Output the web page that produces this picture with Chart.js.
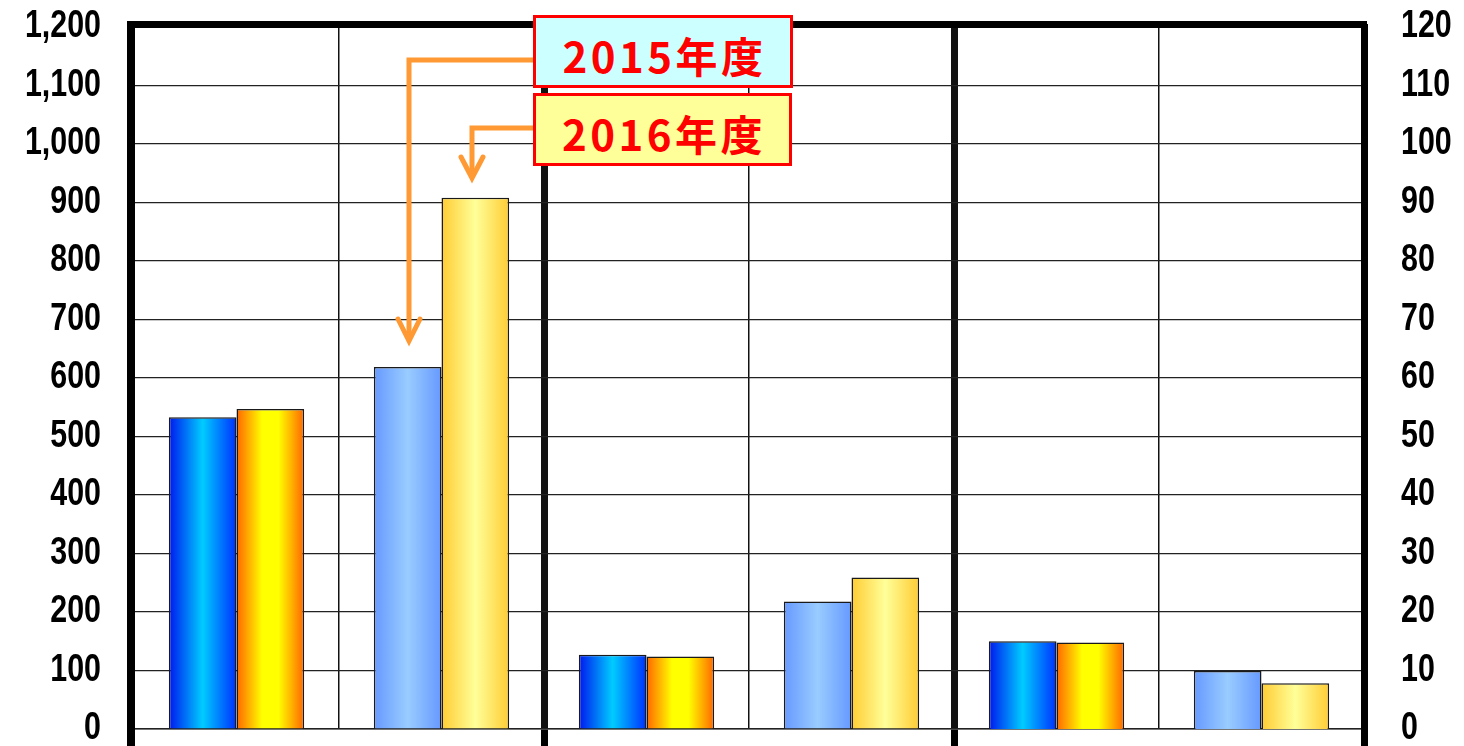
<!DOCTYPE html>
<html><head><meta charset="utf-8">
<script src="https://cdn.jsdelivr.net/npm/chart.js@4"></script>
<style>
html,body{margin:0;padding:0;background:#fff;overflow:hidden;}
#wrap{position:relative;width:1464px;height:746px;}
#c{position:absolute;left:0;top:0;}
.note{position:absolute;box-sizing:border-box;border:3px solid #ff0000;color:#ff0000;font:bold 42px "Noto Sans CJK JP",sans-serif;display:flex;align-items:center;justify-content:center;letter-spacing:3.5px;padding-top:5px;padding-left:3px;}
</style></head><body>
<div id="wrap"><canvas id="c" width="1464" height="746"></canvas>
<div class="note" style="left:533px;top:15px;width:260px;height:73px;background:#ccffff;">2015年度</div>
<div class="note" style="left:533px;top:93px;width:259px;height:73px;background:#ffff99;">2016年度</div>
</div>
<script>
// ---- data ----
const categories = ['G1-a', 'G1-b', 'G2-a', 'G2-b', 'G3-a', 'G3-b'];
const seriesNames = ['2015年度', '2016年度'];
const fy2015Left  = [533, 619, 127, 218, null, null];
const fy2016Left  = [547, 908, 124, 259, null, null];
const fy2015Right = [null, null, null, null, 15.0, 9.9];
const fy2016Right = [null, null, null, null, 14.8, 7.8];
const leftTicks  = {min: 0, max: 1200, step: 100};
const rightTicks = {min: 0, max: 120, step: 10};

// ---- styles ----
const gradStops = {
  a2015: [[0,'#0018ee'],[0.5,'#00ccff'],[1,'#0030ff']],
  b2015: [[0,'#6699ff'],[0.5,'#99ccff'],[1,'#6699ff']],
  a2016: [[0,'#ff6600'],[0.38,'#ffff00'],[0.62,'#ffff00'],[1,'#ff6600']],
  b2016: [[0,'#ffcc33'],[0.5,'#ffff99'],[1,'#ffcc33']]
};
const tickFont = {family: '"Liberation Sans", Arial, sans-serif', size: 38, weight: 'bold'};
const condenseX = 0.8;

const gradientPlugin = {
  id: 'grad',
  beforeDatasetsDraw(chart) {
    const ctx = chart.ctx;
    chart.data.datasets.forEach((ds, di) => {
      const meta = chart.getDatasetMeta(di);
      meta.data.forEach((el, i) => {
        if (ds.data[i] == null) return;
        const key = (i % 2 === 0 ? 'a' : 'b') + ds.series;
        const x0 = el.x - el.width / 2, x1 = el.x + el.width / 2;
        const g = ctx.createLinearGradient(x0, 0, x1, 0);
        gradStops[key].forEach(s => g.addColorStop(s[0], s[1]));
        el.options = Object.assign({}, el.options, {backgroundColor: g});
      });
    });
  }
};

const framePlugin = {
  id: 'frame',
  afterDraw(chart) {
    const {ctx, chartArea: ca} = chart;
    ctx.save();
    ctx.fillStyle = '#000';
    ctx.fillRect(ca.left - 7, ca.top - 6, ca.right - ca.left + 10, 7);
    ctx.fillRect(ca.left - 7, ca.top - 6, 8, chart.height);
    // arrows
    ctx.strokeStyle = '#ff9933';
    ctx.lineWidth = 5;
    ctx.lineJoin = 'miter';
    ctx.beginPath();
    ctx.moveTo(536, 60); ctx.lineTo(409, 60); ctx.lineTo(409, 340);
    ctx.moveTo(536, 128); ctx.lineTo(472, 128); ctx.lineTo(472, 176);
    ctx.stroke();
    ctx.lineCap = 'round';
    ctx.beginPath();
    ctx.moveTo(398, 319); ctx.lineTo(409, 341); ctx.lineTo(420, 319);
    ctx.moveTo(461, 157); ctx.lineTo(472, 178); ctx.lineTo(483, 157);
    ctx.stroke();
    ctx.restore();
  }
};

function condenseLabels(s) {
  if (s._condensed) return;
  s._condensed = true;
  const orig = s.drawLabels;
  s.drawLabels = function (area) {
    const ctx = this.ctx;
    const pad = this.options.ticks.padding;
    const ax = this.position === 'left' ? this.right - pad : this.left + pad;
    ctx.save();
    ctx.translate(ax, 0); ctx.scale(condenseX, 1); ctx.translate(-ax, 0);
    orig.call(this, area);
    ctx.restore();
  };
}

const thickIdx = i => (i === undefined || i % 2 === 0);

function mk(label, data, series, axis) {
  return {label, data, series, yAxisID: axis, skipNull: true,
    backgroundColor: '#888', borderColor: '#1a1a1a', borderWidth: 1.5,
    categoryPercentage: 0.66, barPercentage: 1.0};
}

new Chart(document.getElementById('c'), {
  type: 'bar',
  data: {
    labels: categories,
    datasets: [
      mk(seriesNames[0], fy2015Left, '2015', 'y'),
      mk(seriesNames[1], fy2016Left, '2016', 'y'),
      mk(seriesNames[0], fy2015Right, '2015', 'y2'),
      mk(seriesNames[1], fy2016Right, '2016', 'y2')
    ]
  },
  options: {
    responsive: false,
    animation: false,
    layout: {padding: {top: 27, left: 0, right: 0, bottom: 0}},
    plugins: {legend: {display: false}, tooltip: {enabled: false}},
    scales: {
      x: {
        offset: true,
        ticks: {display: false},
        border: {display: true, color: '#222', width: 1.5},
        grid: {
          offset: true,
          color: '#111',
          lineWidth: c => (c.index === 0) ? 0 : (thickIdx(c.index) ? 7 : 1.5),
          tickLength: 17,
          tickWidth: c => thickIdx(c.index) ? 7 : 1,
          tickColor: c => (c.index === 0) ? 'rgba(0,0,0,0)' : (thickIdx(c.index) ? '#000' : 'rgba(0,0,0,0)')
        }
      },
      y: {
        position: 'left',
        min: leftTicks.min, max: leftTicks.max,
        ticks: {stepSize: leftTicks.step, color: '#000', font: tickFont, padding: 33},
        border: {display: false},
        grid: {color: '#222', lineWidth: 1.2, drawTicks: false},
        afterFit: s => { s.width = 134; s.paddingTop = 0; s.paddingBottom = 0; condenseLabels(s); }
      },
      y2: {
        position: 'right',
        min: rightTicks.min, max: rightTicks.max,
        ticks: {stepSize: rightTicks.step, color: '#000', font: tickFont, padding: 37},
        border: {display: true, color: '#000', width: 7},
        grid: {display: false, drawTicks: false},
        afterFit: s => { s.width = 100; s.paddingTop = 0; s.paddingBottom = 0; condenseLabels(s); }
      }
    }
  },
  plugins: [gradientPlugin, framePlugin]
});
</script>
</body></html>
